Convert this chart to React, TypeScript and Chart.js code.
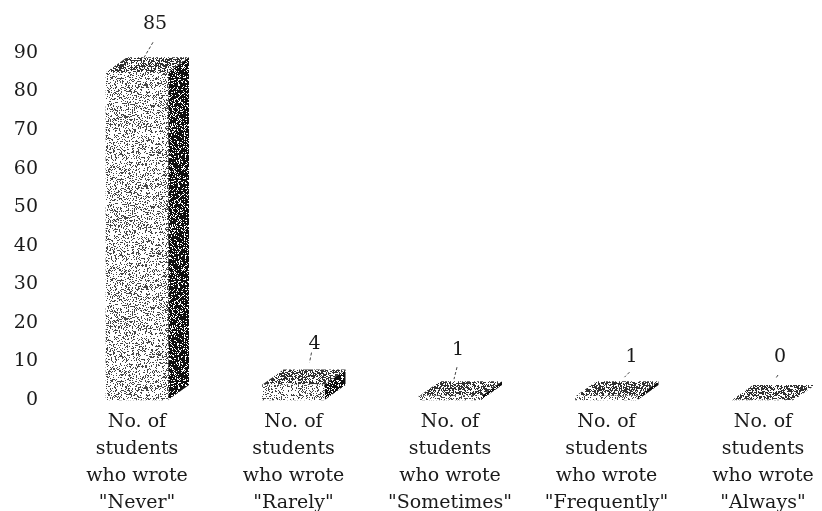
import React, { useEffect, useRef } from "react";
import { Chart, registerables } from "chart.js";

Chart.register(...registerables);

const categories = [
  ["No. of", "students", "who wrote", '"Never"'],
  ["No. of", "students", "who wrote", '"Rarely"'],
  ["No. of", "students", "who wrote", '"Sometimes"'],
  ["No. of", "students", "who wrote", '"Frequently"'],
  ["No. of", "students", "who wrote", '"Always"'],
];
const values = [85, 4, 1, 1, 0];

const FONT = "DejaVu Serif";
const FONT_SIZE = 19;
const DEPTH_X = 21;
const DEPTH_Y = 15;
// Label and leader placement relative to each bar's top centre.
const labelOffsets = [[18, -50], [21, -43], [8, -48], [25, -41], [17, -45]];
const leaderOffsets = [
  [16, -30, 6, -13],
  [18, -32, 16, -22],
  [7, -29, 4, -17],
  [23, -24, 18, -19],
  [15, -25, 13, -22],
];

function stipple(density: number, seed: number, ink: number): CanvasPattern {
  const size = 101;
  const c = document.createElement("canvas");
  c.width = size;
  c.height = size;
  const g = c.getContext("2d")!;
  const img = g.createImageData(size, size);
  for (let y = 0; y < size; y++) {
    for (let x = 0; x < size; x++) {
      let h = Math.imul(x * 374761393 + y * 668265263 + seed, 1274126177);
      h = Math.imul(h ^ (h >>> 13), 1103515245);
      h = (h ^ (h >>> 16)) >>> 0;
      const dark = (h % 1000) / 1000 < density;
      const v = dark ? ink : 255;
      const i = (y * size + x) * 4;
      img.data[i] = v;
      img.data[i + 1] = v;
      img.data[i + 2] = v;
      img.data[i + 3] = 255;
    }
  }
  g.putImageData(img, 0, 0);
  return document.createElement("canvas").getContext("2d")!.createPattern(c, "repeat")!;
}

export default function App() {
  const ref = useRef<HTMLCanvasElement>(null);
  useEffect(() => {
    const front = stipple(0.27, 11, 70);
    const top = stipple(0.55, 29, 50);
    const side = stipple(0.78, 47, 15);
    const bar3d = {
      id: "bar3d",
      beforeDatasetsDraw(chart: any) {
        const ctx = chart.ctx;
        const base = chart.scales.y.getPixelForValue(0);
        chart.getDatasetMeta(0).data.forEach((el: any) => {
          const l = el.x - el.width / 2;
          const r = el.x + el.width / 2;
          ctx.save();
          ctx.fillStyle = side;
          ctx.beginPath();
          ctx.moveTo(r, el.y);
          ctx.lineTo(r + DEPTH_X, el.y - DEPTH_Y);
          ctx.lineTo(r + DEPTH_X, base - DEPTH_Y);
          ctx.lineTo(r, base);
          ctx.closePath();
          ctx.fill();
          ctx.fillStyle = top;
          ctx.beginPath();
          ctx.moveTo(l, el.y);
          ctx.lineTo(l + DEPTH_X, el.y - DEPTH_Y);
          ctx.lineTo(r + DEPTH_X, el.y - DEPTH_Y);
          ctx.lineTo(r, el.y);
          ctx.closePath();
          ctx.fill();
          ctx.restore();
        });
      },
      afterDatasetsDraw(chart: any) {
        const ctx = chart.ctx;
        chart.getDatasetMeta(0).data.forEach((el: any, i: number) => {
          const [lx, ly] = labelOffsets[i];
          const [x1, y1, x2, y2] = leaderOffsets[i];
          ctx.save();
          ctx.fillStyle = "#1a1a1a";
          ctx.font = `${FONT_SIZE}px "${FONT}"`;
          ctx.textAlign = "center";
          ctx.textBaseline = "middle";
          ctx.fillText(String(values[i]), el.x + lx, el.y + ly + 2);
          ctx.strokeStyle = "#444";
          ctx.lineWidth = 1;
          ctx.setLineDash([3, 2]);
          ctx.beginPath();
          ctx.moveTo(el.x + x1, el.y + y1);
          ctx.lineTo(el.x + x2, el.y + y2);
          ctx.stroke();
          ctx.restore();
        });
      },
    };
    const chart = new Chart(ref.current!, {
      type: "bar",
      data: {
        labels: categories,
        datasets: [
          {
            data: values,
            backgroundColor: front,
            barThickness: 62,
            clip: false,
          } as any,
        ],
      },
      plugins: [bar3d],
      options: {
        animation: false,
        responsive: false,
        layout: { padding: { top: 53, right: 59, left: 0, bottom: 0 } },
        plugins: { legend: { display: false }, tooltip: { enabled: false } },
        scales: {
          x: {
            offset: false,
            grid: { display: false },
            border: { display: false },
            afterFit: (s: any) => {
              s.height = 111;
            },
            ticks: {
              autoSkip: false,
              maxRotation: 0,
              minRotation: 0,
              padding: 1,
              color: "#1a1a1a",
              font: { family: FONT, size: FONT_SIZE, lineHeight: 1.42 },
            },
          },
          y: {
            min: 0,
            max: 90,
            grid: { display: false },
            border: { display: false },
            afterFit: (s: any) => {
              s.width = 137;
              s.paddingTop = 0;
              s.paddingBottom = 0;
            },
            ticks: {
              stepSize: 10,
              padding: 91,
              color: "#1a1a1a",
              font: { family: FONT, size: FONT_SIZE },
            },
          },
        },
      } as any,
    });
    return () => chart.destroy();
  }, []);
  return (
    <div style={{ position: "absolute", left: 0, top: 0, width: 822, height: 511, background: "#fff" }}>
      <canvas ref={ref} width={822} height={511} style={{ display: "block" }} />
    </div>
  );
}
